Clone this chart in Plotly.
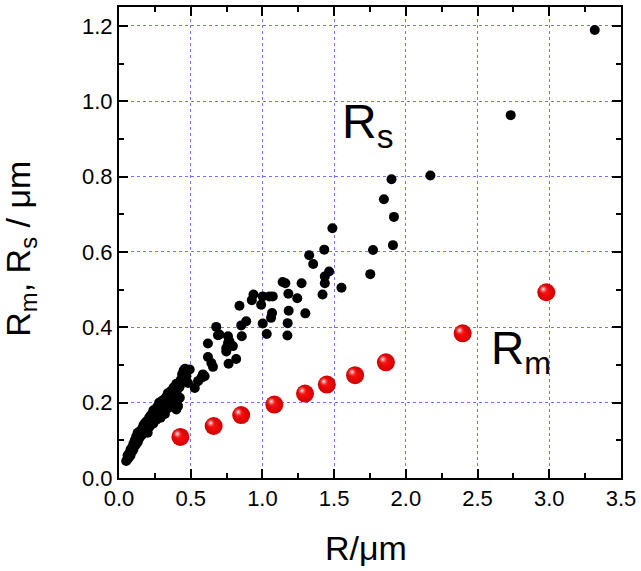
import plotly.graph_objects as go

# R_s data (black dots)
rs_x = [
    3.317, 2.731, 2.171, 1.90, 1.847, 1.917, 1.91, 1.771, 1.752, 1.551,
    1.488, 1.465, 1.431, 1.326, 1.354, 1.435, 1.435, 1.419, 1.273, 1.141,
    1.16, 1.181, 1.243, 1.299, 1.183, 1.176, 1.174, 1.067, 1.060, 1.002,
    1.030, 1.072, 1.049, 1.002, 0.9375, 0.926, 0.991, 0.840, 0.887, 0.852,
    0.856, 0.678, 0.690, 0.70, 0.76, 0.77, 0.748, 0.76, 0.62, 0.794,
    0.748, 0.817, 0.764, 0.62, 0.644, 0.655, 0.493, 0.47, 0.447, 0.585,
    0.597, 0.574, 0.551, 0.528, 0.481, 0.447, 0.424, 0.40, 0.366, 0.331,
    0.424, 0.412, 0.40, 0.366, 0.342, 0.297, 0.273,
    0.05, 0.06, 0.06, 0.07, 0.07, 0.08, 0.08, 0.09, 0.09, 0.10,
    0.10, 0.11, 0.11, 0.12, 0.12, 0.13, 0.13, 0.14, 0.14, 0.15,
    0.15, 0.16, 0.16, 0.17, 0.17, 0.18, 0.18, 0.19, 0.19, 0.20,
    0.20, 0.21, 0.21, 0.22, 0.22, 0.23, 0.23, 0.24, 0.24, 0.25,
    0.25, 0.26, 0.26, 0.27, 0.27, 0.28, 0.28, 0.29, 0.29, 0.30,
    0.30, 0.31, 0.31, 0.32, 0.32, 0.33, 0.33, 0.34, 0.34, 0.35,
    0.35, 0.36, 0.36, 0.37, 0.38, 0.38, 0.39, 0.40, 0.40, 0.41,
    0.42, 0.43, 0.44, 0.45, 0.46, 0.47,
]
rs_y = [
    1.189, 0.963, 0.803, 0.793, 0.740, 0.693, 0.618, 0.605, 0.541, 0.505,
    0.663, 0.548, 0.606, 0.591, 0.568, 0.535, 0.517, 0.487, 0.517, 0.520,
    0.517, 0.489, 0.477, 0.437, 0.444, 0.411, 0.378, 0.438, 0.425, 0.410,
    0.382, 0.482, 0.482, 0.482, 0.487, 0.472, 0.460, 0.457, 0.416, 0.405,
    0.376, 0.401, 0.379, 0.381, 0.376, 0.363, 0.345, 0.358, 0.357, 0.350,
    0.336, 0.316, 0.303, 0.321, 0.305, 0.295, 0.288, 0.279, 0.270, 0.275,
    0.270, 0.266, 0.257, 0.239, 0.252, 0.257, 0.244, 0.226, 0.222, 0.208,
    0.213, 0.191, 0.182, 0.199, 0.186, 0.173, 0.177,
    0.045, 0.05, 0.06, 0.055, 0.065, 0.06, 0.075, 0.07, 0.08, 0.075,
    0.09, 0.085, 0.10, 0.09, 0.11, 0.095, 0.12, 0.105, 0.115, 0.11,
    0.125, 0.115, 0.13, 0.12, 0.14, 0.125, 0.145, 0.13, 0.15, 0.12,
    0.14, 0.135, 0.16, 0.14, 0.165, 0.15, 0.17, 0.145, 0.18, 0.16,
    0.175, 0.155, 0.185, 0.165, 0.19, 0.17, 0.20, 0.16, 0.185, 0.175,
    0.205, 0.18, 0.195, 0.17, 0.21, 0.19, 0.215, 0.185, 0.225, 0.20,
    0.22, 0.195, 0.23, 0.21, 0.22, 0.24, 0.20, 0.23, 0.25, 0.215,
    0.24, 0.26, 0.275, 0.285, 0.29, 0.27,
]

# R_m data (red spheres)
rm_x = [0.428, 0.66, 0.852, 1.083, 1.297, 1.449, 1.646, 1.861, 2.396, 2.979]
rm_y = [0.109, 0.138, 0.167, 0.195, 0.224, 0.248, 0.273, 0.307, 0.384, 0.493]

x_ticks = [0.0, 0.5, 1.0, 1.5, 2.0, 2.5, 3.0, 3.5]
y_ticks = [0.0, 0.2, 0.4, 0.6, 0.8, 1.0, 1.2]

FONT = "Liberation Sans, Arial, sans-serif"
GRID = "#7474ff"

fig = go.Figure()
fig.add_trace(go.Scatter(
    x=rs_x, y=rs_y, mode="markers",
    marker=dict(color="black", size=10, line=dict(width=0)),
    showlegend=False, hoverinfo="skip",
))
fig.add_trace(go.Scatter(
    x=rm_x, y=rm_y, mode="markers",
    marker=dict(color="#d00000", size=18, line=dict(width=0),
                gradient=dict(type="radial", color="#ff1010")),
    showlegend=False, hoverinfo="skip",
))
# highlight on the spheres (drawn on slightly shifted overlay axes)
fig.add_trace(go.Scatter(
    x=rm_x, y=rm_y, mode="markers", xaxis="x2", yaxis="y2",
    marker=dict(color="rgba(255,30,30,0)", size=10, line=dict(width=0),
                gradient=dict(type="radial", color="rgba(255,255,255,1)")),
    showlegend=False, hoverinfo="skip",
))

axis_common = dict(
    showline=True, linewidth=2, linecolor="black", mirror="allticks",
    ticks="inside", ticklen=9, tickwidth=1.5, tickcolor="black",
    showgrid=True, gridcolor=GRID, griddash="dot", gridwidth=1,
    zeroline=False,
    tickfont=dict(family=FONT, size=22, color="black"),
)

fig.update_layout(
    width=641, height=571,
    margin=dict(l=119, r=18, t=5, b=93, pad=0),
    plot_bgcolor="white", paper_bgcolor="white",
    xaxis=dict(range=[0, 3.5], tickvals=x_ticks, ticktext=[f"{v:.1f}" for v in x_ticks],
               minor=dict(dtick=0.25, tick0=0, ticks="inside", ticklen=5, tickwidth=1.5,
                          tickcolor="black", showgrid=False),
               **axis_common),
    yaxis=dict(range=[0, 1.25], tickvals=y_ticks, ticktext=[f"{v:.1f}" for v in y_ticks],
               minor=dict(dtick=0.1, tick0=0, ticks="inside", ticklen=5, tickwidth=1.5,
                          tickcolor="black", showgrid=False),
               **axis_common),
    xaxis2=dict(overlaying="x", range=[0.021, 3.521], visible=False),
    yaxis2=dict(overlaying="y", range=[-0.008, 1.242], visible=False),
    annotations=[
        dict(text="R/\u03bcm", xref="paper", yref="paper", x=0.492, y=-0.148,
             xanchor="center", yanchor="middle", showarrow=False,
             font=dict(family=FONT, size=34, color="black")),
        dict(text="R<sub>m</sub>, R<sub>s</sub> / \u03bcm", xref="paper", yref="paper",
             x=-0.198, y=0.486, textangle=-90,
             xanchor="center", yanchor="middle", showarrow=False,
             font=dict(family=FONT, size=34, color="black")),
        dict(text="R<sub>s</sub>", xref="x", yref="y", x=1.54, y=0.936,
             xanchor="left", yanchor="middle", showarrow=False,
             font=dict(family=FONT, size=48, color="black")),
        dict(text="R<sub>m</sub>", xref="x", yref="y", x=2.58, y=0.336,
             xanchor="left", yanchor="middle", showarrow=False,
             font=dict(family=FONT, size=46, color="black")),
    ],
)

fig.write_html("out.html", config={"displayModeBar": False},
               post_script="document.body.style.margin='0';")
